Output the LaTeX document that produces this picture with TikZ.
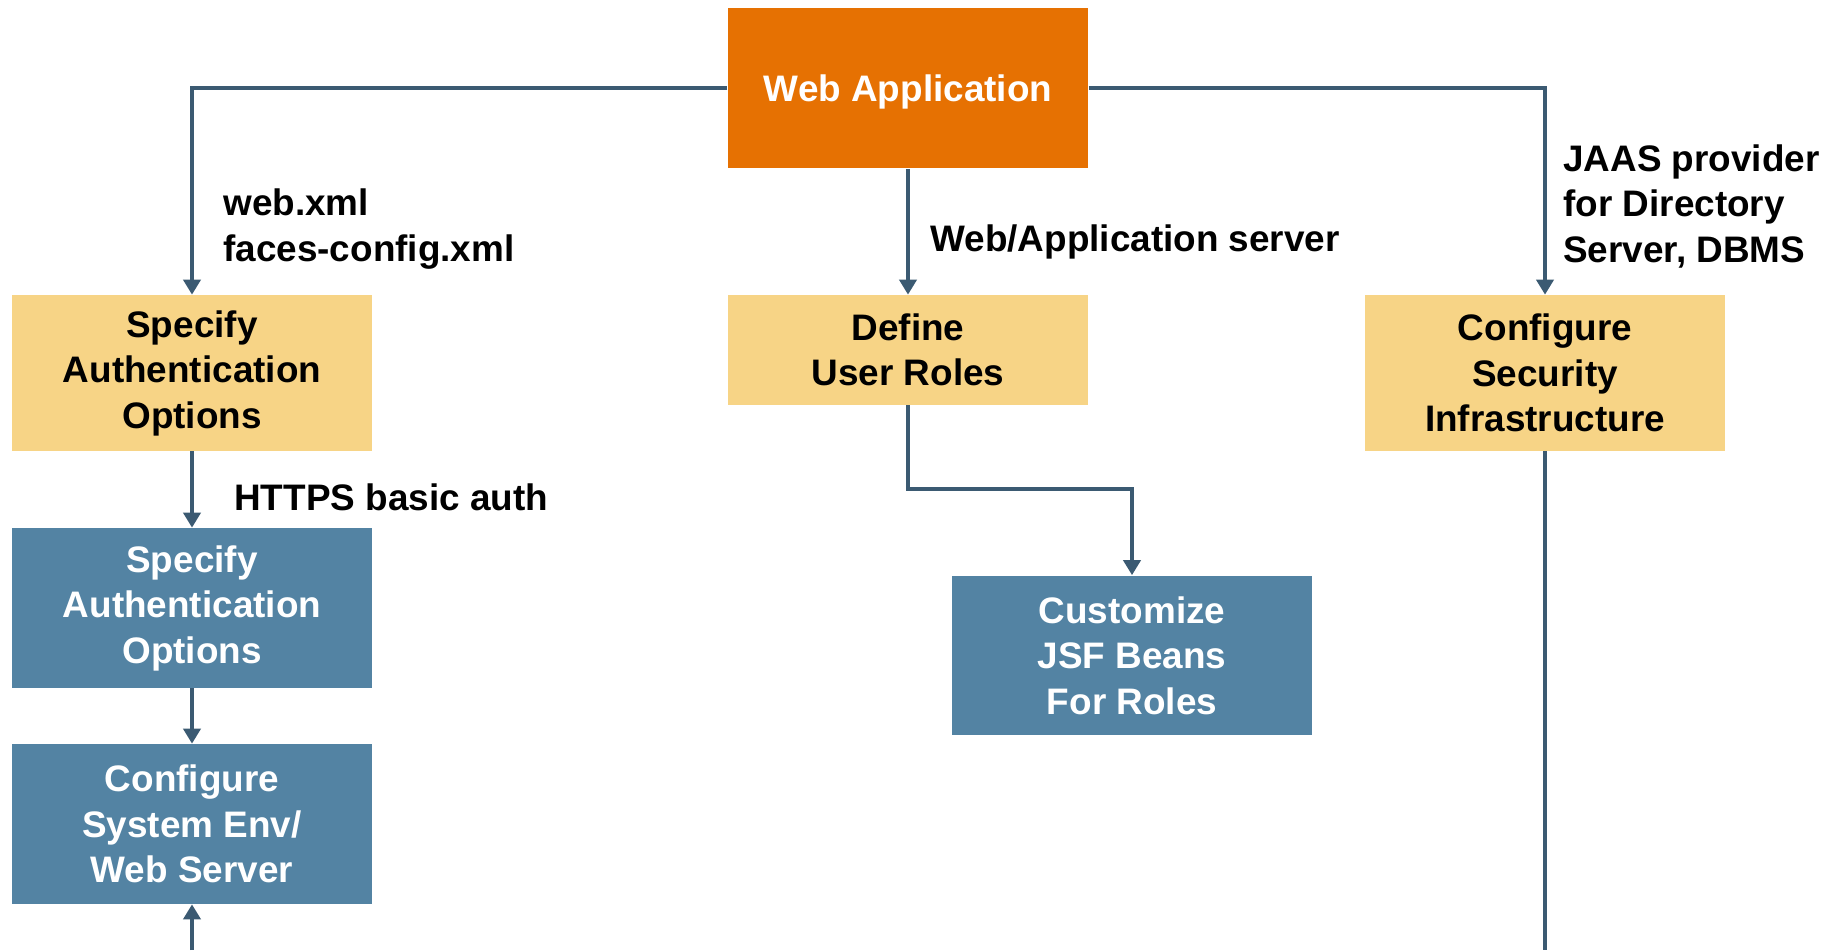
\documentclass[tikz,border=0pt]{standalone}
\usepackage{fontspec}
\setmainfont{Liberation Sans}
\usepackage{xcolor}
\usetikzlibrary{arrows.meta}
\definecolor{appOrange}{RGB}{230,113,2}
\definecolor{stepYellow}{RGB}{247,212,134}
\definecolor{stepBlue}{RGB}{83,131,163}
\definecolor{flowLine}{RGB}{59,90,114}
\begin{document}
\begin{tikzpicture}[x=0.02cm, y=-0.02cm]
            \tikzset{
                box/.style={shape = rectangle, align=center, inner sep=0pt, font=\fontsize{21}{25.9}\selectfont\bfseries},
                top_box/.style={box, fill=appOrange, text=white, text depth=0pt, minimum width=7.22cm, minimum height=3.22cm},
                yellow_box/.style={box, fill=stepYellow, minimum width=7.2cm},
                blue_box/.style={box, fill=stepBlue, text=white, minimum width=7.2cm, minimum height=3.2cm},
                note/.style={anchor=west, align=left, inner sep=0pt, font=\fontsize{21}{25.9}\selectfont\bfseries},
                flow/.style={draw=flowLine, line width=2.3pt, -{Triangle[length=0.3cm,width=0.34cm]}}
            }
            \useasboundingbox (0,0) rectangle (1831,950);
            \node[top_box] (A) at (908,88) {Web Application};
            \node[yellow_box, minimum height=3.12cm] (B) at (192,373) {Specify\\Authentication\\Options};
            \node[yellow_box, minimum height=2.2cm] (C) at (908,350) {Define\\User Roles};
            \node[yellow_box, minimum height=3.12cm] (D) at (1545,373) {Configure\\Security\\Infrastructure};
            \node[blue_box] (E) at (192,608) {Specify\\Authentication\\Options};
            \node[blue_box] (F) at (192,824) {Configure\\System Env/\\Web Server};
            \node[blue_box] (G) at (1132,655.5) {Customize\\JSF Beans\\For Roles};
            \coordinate (H) at (192,950);
            \coordinate (I) at (1545,950);
            \node[note] at (223,229) {web.xml\\faces-config.xml};
            \node[note] at (930,242) {Web/Application server};
            \node[note] at (1563,206) {JAAS provider\\for Directory\\Server, DBMS};
            \node[note] at (234,497) {HTTPS basic auth};
            \draw[flow] (A.west) -| (B.north);
            \draw[flow] (A.east) -| (D.north);
            \draw[flow] (A) -- (C);
            \draw[flow] (C.south) |- (1132,489) -- (G.north);
            \draw[flow] (B) -- (E);
            \draw[flow] (E) -- (F);
            \draw[flow] (H) -- (F.south);
            \draw[flow, -] (D.south) -- (I);
        \end{tikzpicture}
\end{document}
